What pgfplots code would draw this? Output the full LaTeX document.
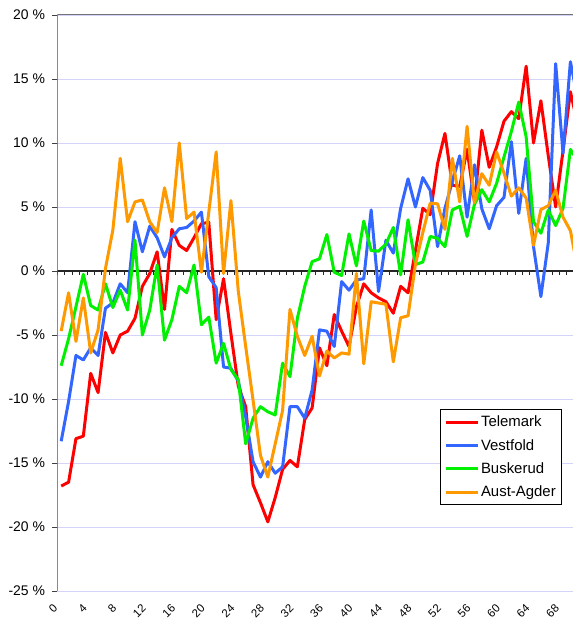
\documentclass[border=0pt]{standalone}
\usepackage{fontspec}
\setmainfont{Liberation Sans}
\usepackage{pgfplots}
\usepackage{pgfplotstable}
\pgfplotsset{compat=1.18}
\definecolor{cTel}{RGB}{255,0,0}
\definecolor{cVes}{RGB}{51,102,255}
\definecolor{cBus}{RGB}{0,240,0}
\definecolor{cAus}{RGB}{255,153,0}
\definecolor{cGrid}{RGB}{212,212,250}

\pgfplotstableread{
i tel ves bus aus
0 -16.8 -13.3 -7.4 -4.7
1 -16.5 -10.2 -5.3 -1.7
2 -13.1 -6.6 -2.8 -5.5
3 -12.9 -6.95 -0.26 -2.1
4 -8.0 -6.0 -2.7 -6.4
5 -9.5 -6.6 -3.05 -4.6
6 -4.8 -2.9 -1.0 0.2
7 -6.4 -2.5 -2.85 3.2
8 -5.0 -1.0 -1.5 8.8
9 -4.7 -1.7 -3.05 3.85
10 -3.7 3.85 2.4 5.4
11 -1.2 1.5 -5.0 5.55
12 -0.2 3.5 -3.05 3.85
13 1.5 2.6 0.47 3.0
14 -3.0 1.1 -5.4 6.5
15 3.25 2.6 -3.8 3.85
16 2.0 3.3 -1.2 10.0
17 1.6 3.4 -1.7 4.1
18 2.6 3.9 0.47 4.6
19 3.7 4.6 -4.2 -0.1
20 3.8 -0.44 -3.6 4.6
21 -3.8 -1.3 -7.2 9.3
22 -0.6 -7.5 -5.65 -0.2
23 -4.9 -7.6 -7.7 5.5
24 -9.0 -8.6 -8.5 -1.6
25 -10.6 -11.4 -13.5 -5.9
26 -16.7 -14.9 -11.5 -10.1
27 -18.1 -16.1 -10.6 -14.4
28 -19.6 -14.9 -11.0 -16.1
29 -17.7 -15.8 -11.25 -13.5
30 -15.5 -15.3 -7.2 -10.9
31 -14.8 -10.6 -8.25 -3.0
32 -15.3 -10.6 -3.7 -5.1
33 -11.6 -11.5 -1.2 -6.6
34 -10.7 -9.3 0.73 -5.1
35 -6.0 -4.6 0.95 -8.2
36 -7.4 -4.7 2.85 -6.25
37 -3.4 -5.9 -0.1 -6.8
38 -4.7 -0.83 -0.35 -6.4
39 -5.9 -1.5 2.9 -6.5
40 -2.8 -0.7 0.4 -0.2
41 -1.0 -0.6 3.9 -7.25
42 -1.7 4.77 1.6 -2.4
43 -2.1 -1.6 1.55 -2.5
44 -2.4 2.4 2.1 -2.6
45 -3.3 1.4 3.4 -7.1
46 -1.2 4.9 -0.3 -3.65
47 -1.7 7.2 4.0 -3.5
48 1.6 5.0 0.5 0.5
49 4.9 7.3 0.7 3.0
50 4.4 6.3 2.7 5.3
51 8.4 1.9 2.55 5.25
52 10.75 4.9 1.9 3.25
53 6.7 7.0 4.77 8.8
54 6.6 9.0 5.05 5.4
55 9.5 4.2 2.7 11.3
56 5.4 8.3 5.2 5.35
57 11.0 4.85 6.35 7.6
58 8.1 3.3 5.4 6.7
59 9.7 5.1 6.85 9.3
60 11.7 5.75 8.9 7.65
61 12.45 10.1 10.9 5.85
62 11.9 4.5 13.2 6.5
63 16.0 8.8 10.5 5.7
64 10.0 1.9 3.85 2.0
65 13.3 -2.0 2.95 4.8
66 9.0 2.2 4.77 5.1
67 5.0 16.2 3.55 6.3
68 9.4 9.2 4.9 4.2
69 14.0 16.35 9.5 3.15
70 11.4 13.4 8.6 0.1
}\data

\begin{document}
\begin{tikzpicture}
\begin{axis}[
  scale only axis, width=515.5bp, height=576bp,
  xmin=-0.5, xmax=69.35, ymin=-25, ymax=20,
  axis line style={draw=none},
  xtick={0,4,...,68},
  xticklabels={0,4,8,12,16,20,24,28,32,36,40,44,48,52,56,60,64,68},
  xticklabel style={font=\fontsize{11.5}{11.5}\selectfont, inner sep=1bp, xshift=-5bp, yshift=-9.5bp, rotate=45, anchor=east},
  xtick style={draw=none},
  ytick={-25,-20,...,20},
  yticklabels={-25 \%,-20 \%,-15 \%,-10 \%,-5 \%,0 \%,5 \%,10 \%,15 \%,20 \%},
  yticklabel style={font=\fontsize{14}{14}\selectfont, xshift=-4bp},
  ytick style={draw=black!75, line width=0.8bp},
  tick align=outside, major tick length=5bp,
  ymajorgrids, grid style={cGrid, line width=0.9bp},
  legend style={at={(rel axis cs:0.979,0.149)}, anchor=south east, draw=black, line width=0.8bp,
    font=\fontsize{15}{15}\selectfont, row sep=7bp, inner xsep=4bp, inner ysep=4.5bp},
  legend cell align=left,
  legend image code/.code={\draw[#1, line width=2.8bp] (0bp,0bp) -- (32bp,0bp);},
  every axis plot/.append style={line width=3bp, line join=round},
]
\draw[black!55, line width=1bp] (rel axis cs:0,1) -- (rel axis cs:1,1);
\draw[black!45, line width=1bp] (rel axis cs:0,0) -- (rel axis cs:1,0);
\draw[black!85, line width=1.2bp] (axis cs:-0.5,0) -- (axis cs:69.35,0);
\pgfplotsinvokeforeach{0,...,69}{\draw[black!85, line width=0.8bp] (axis cs:#1-0.5,0) -- ([yshift=-4bp]axis cs:#1-0.5,0);}
\addplot[cTel, no marks] table[x=i, y=tel] {\data};
\addlegendentry{Telemark}
\addplot[cVes, no marks] table[x=i, y=ves] {\data};
\addlegendentry{Vestfold}
\addplot[cBus, no marks] table[x=i, y=bus] {\data};
\addlegendentry{Buskerud}
\addplot[cAus, no marks] table[x=i, y=aus] {\data};
\addlegendentry{Aust-Agder}
\draw[black!70, line width=1.8bp] (rel axis cs:0,0) -- (rel axis cs:0,1);
\coordinate (sw) at (rel axis cs:0,0);
\coordinate (ne) at (rel axis cs:1,1);
\end{axis}
\pgfresetboundingbox
\path ([xshift=-57.5bp,yshift=-28bp]sw) rectangle ([yshift=15bp]ne);
\end{tikzpicture}
\end{document}
